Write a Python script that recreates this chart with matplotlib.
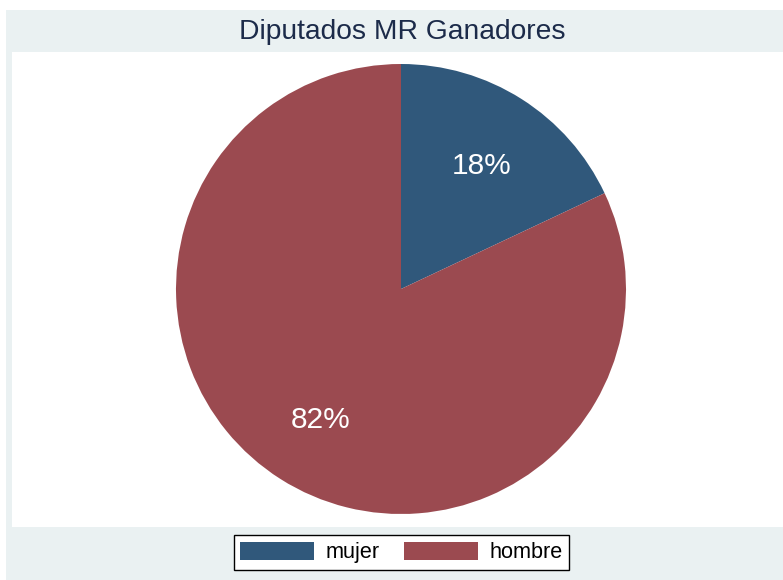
import matplotlib.pyplot as plt
from matplotlib.patches import Rectangle

plt.rcParams['font.family'] = ['Liberation Sans', 'DejaVu Sans']

# datos
categorias = ['mujer', 'hombre']
porcentajes = [18, 82]
colores = ['#30587B', '#9B4A50']

W, H = 783, 580
fig = plt.figure(figsize=(W / 100, H / 100), dpi=100, facecolor='white')

# fondo gris-azulado tipo Stata
fig.patches.append(Rectangle((6 / W, 0), 1 - 6 / W, 1 - 10 / H,
                             transform=fig.transFigure, facecolor='#EAF1F2',
                             edgecolor='none', zorder=-10))

# region del grafico (blanca), en coordenadas de pixel
x0, x1, ytop, ybot = 12, 783, 52, 527
ax = fig.add_axes([x0 / W, 1 - ybot / H, (x1 - x0) / W, (ybot - ytop) / H], zorder=1)
ax.axis('off')
ax.add_patch(Rectangle((x0, H - ybot), x1 - x0, ybot - ytop, facecolor='white',
                       edgecolor='none', zorder=0))

wedges, textos, autot = ax.pie(porcentajes, colors=colores, startangle=90,
                               counterclock=False, center=(401, H - 289),
                               radius=225, autopct='%d%%', pctdistance=0.67,
                               wedgeprops=dict(linewidth=0),
                               textprops=dict(color='white', fontsize=21.5))
# etiquetas un poco mas abajo, como en Stata
for t in autot:
    t.set_y(t.get_position()[1] - 4)
ax.set_aspect('auto')
ax.set_xlim(x0, x1)
ax.set_ylim(H - ybot, H - ytop)

fig.text(402 / W, 1 - 32 / H, 'Diputados MR Ganadores', ha='center', va='center',
         fontsize=20.3, color='#1C2B4A')

leg = fig.legend(wedges, categorias, loc='center', bbox_to_anchor=(401.5 / W, 1 - 552.5 / H),
                 ncol=2, fontsize=15.6, handlelength=3.4, handleheight=0.88,
                 handletextpad=0.55, columnspacing=1.1, frameon=True, fancybox=False,
                 edgecolor='black', facecolor='white', borderpad=0.3, framealpha=1)
leg.get_frame().set_linewidth(1)

fig.savefig('out.png', dpi=100, facecolor='white')
